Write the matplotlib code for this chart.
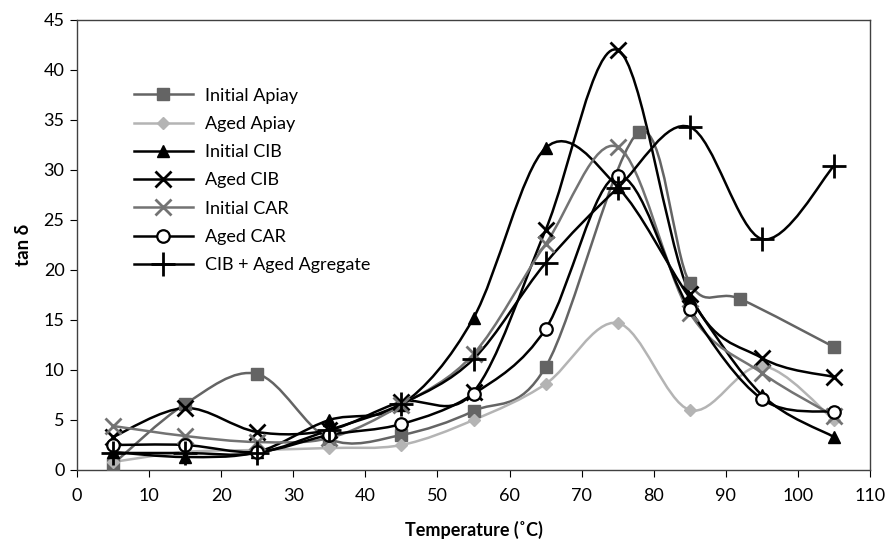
import matplotlib
matplotlib.use("Agg")
import matplotlib.pyplot as plt
import numpy as np
from matplotlib.path import Path
from matplotlib.patches import PathPatch
from matplotlib.lines import Line2D

plt.rcParams['font.family'] = ['Lato', 'DejaVu Sans']

temps = [5, 15, 25, 35, 45, 55, 65, 75, 85, 95, 105]
temps_apiay = [5, 15, 25, 35, 45, 55, 65, 78, 85, 92, 105]

initial_apiay = [0.6, 6.6, 9.6, 3.1, 3.5, 5.9, 10.3, 33.8, 18.7, 17.1, 12.3]
aged_apiay = [0.8, 1.8, 2.0, 2.2, 2.5, 5.0, 8.6, 14.7, 6.0, 10.4, 5.0]
initial_cib = [1.8, 1.3, 1.8, 5.0, 6.5, 15.2, 32.2, 28.3, 17.2, 7.5, 3.3]
aged_cib = [3.3, 6.2, 3.8, 4.0, 6.8, 7.8, 24.0, 42.0, 17.6, 11.2, 9.3]
initial_car = [4.4, 3.4, 2.8, 3.2, 6.5, 11.6, 22.6, 32.3, 15.7, 9.7, 5.4]
aged_car = [2.5, 2.5, 1.8, 3.5, 4.6, 7.6, 14.1, 29.4, 16.1, 7.1, 5.8]
cib_aged_agg = [1.7, 1.7, 1.7, 4.0, 6.6, 11.1, 20.7, 28.2, 34.3, 23.1, 30.4]

labels = ["Initial Apiay", "Aged Apiay", "Initial CIB", "Aged CIB",
          "Initial CAR", "Aged CAR", "CIB + Aged Agregate"]


def smooth_path(x, y):
    # excel-like smoothed line: bezier segments through the data points
    p = np.column_stack([x, y]).astype(float)
    pp = np.vstack([p[0], p, p[-1]])
    verts = [p[0]]
    codes = [Path.MOVETO]
    for i in range(len(p) - 1):
        c1 = pp[i + 1] + (pp[i + 2] - pp[i]) / 6.0
        c2 = pp[i + 2] - (pp[i + 3] - pp[i + 1]) / 6.0
        verts += [c1, c2, p[i + 1]]
        codes += [Path.CURVE4] * 3
    return Path(verts, codes)


series = [
    (temps_apiay, initial_apiay, dict(color='#646464', marker='s', ms=8, mfc='#646464', mec='#646464', mew=1)),
    (temps, aged_apiay, dict(color='#b4b4b4', marker='D', ms=6, mfc='#b4b4b4', mec='#b4b4b4', mew=1)),
    (temps, initial_cib, dict(color='black', marker='^', ms=9, mfc='black', mec='black', mew=1)),
    (temps, aged_cib, dict(color='black', marker='x', ms=12, mfc='black', mec='black', mew=2)),
    (temps, initial_car, dict(color='#737373', marker='x', ms=12, mfc='#737373', mec='#737373', mew=2)),
    (temps, aged_car, dict(color='black', marker='o', ms=9, mfc='white', mec='black', mew=1.6)),
    (temps, cib_aged_agg, dict(color='black', marker='+', ms=17, mfc='black', mec='black', mew=2)),
]

fig = plt.figure(figsize=(8.91, 5.42), dpi=100)
ax = fig.add_axes([77 / 891, 72 / 542, 793 / 891, 450 / 542])

handles = []
for (x, y, st), lab in zip(series, labels):
    ax.add_patch(PathPatch(smooth_path(x, y), fill=False, edgecolor=st['color'], lw=1.8, zorder=2))
    ax.plot(x, y, linestyle='none', marker=st['marker'], ms=st['ms'], mfc=st['mfc'],
            mec=st['mec'], mew=st['mew'], zorder=3)
    handles.append(Line2D([], [], color=st['color'], lw=1.8, marker=st['marker'], ms=st['ms'],
                          mfc=st['mfc'], mec=st['mec'], mew=st['mew']))

ax.set_xlim(0, 110)
ax.set_ylim(0, 45)
ax.set_xticks(range(0, 111, 10))
ax.set_yticks(range(0, 46, 5))
ax.tick_params(direction='out', length=5, labelsize=13, pad=8)
ax.tick_params(axis='y', pad=4)
for s in ax.spines.values():
    s.set_color('#404040')
    s.set_linewidth(1)

ax.set_xlabel("Temperature (˚C)", fontsize=13, fontweight='bold', labelpad=12)
ax.set_ylabel("tan δ", fontsize=13.5, fontweight='bold', labelpad=8)

ax.legend(handles, labels, loc='upper left', bbox_to_anchor=(0.051, 0.886), frameon=False,
          fontsize=13, handlelength=3.3, labelspacing=0.68, handletextpad=0.65)

fig.savefig("out.png", dpi=100)
